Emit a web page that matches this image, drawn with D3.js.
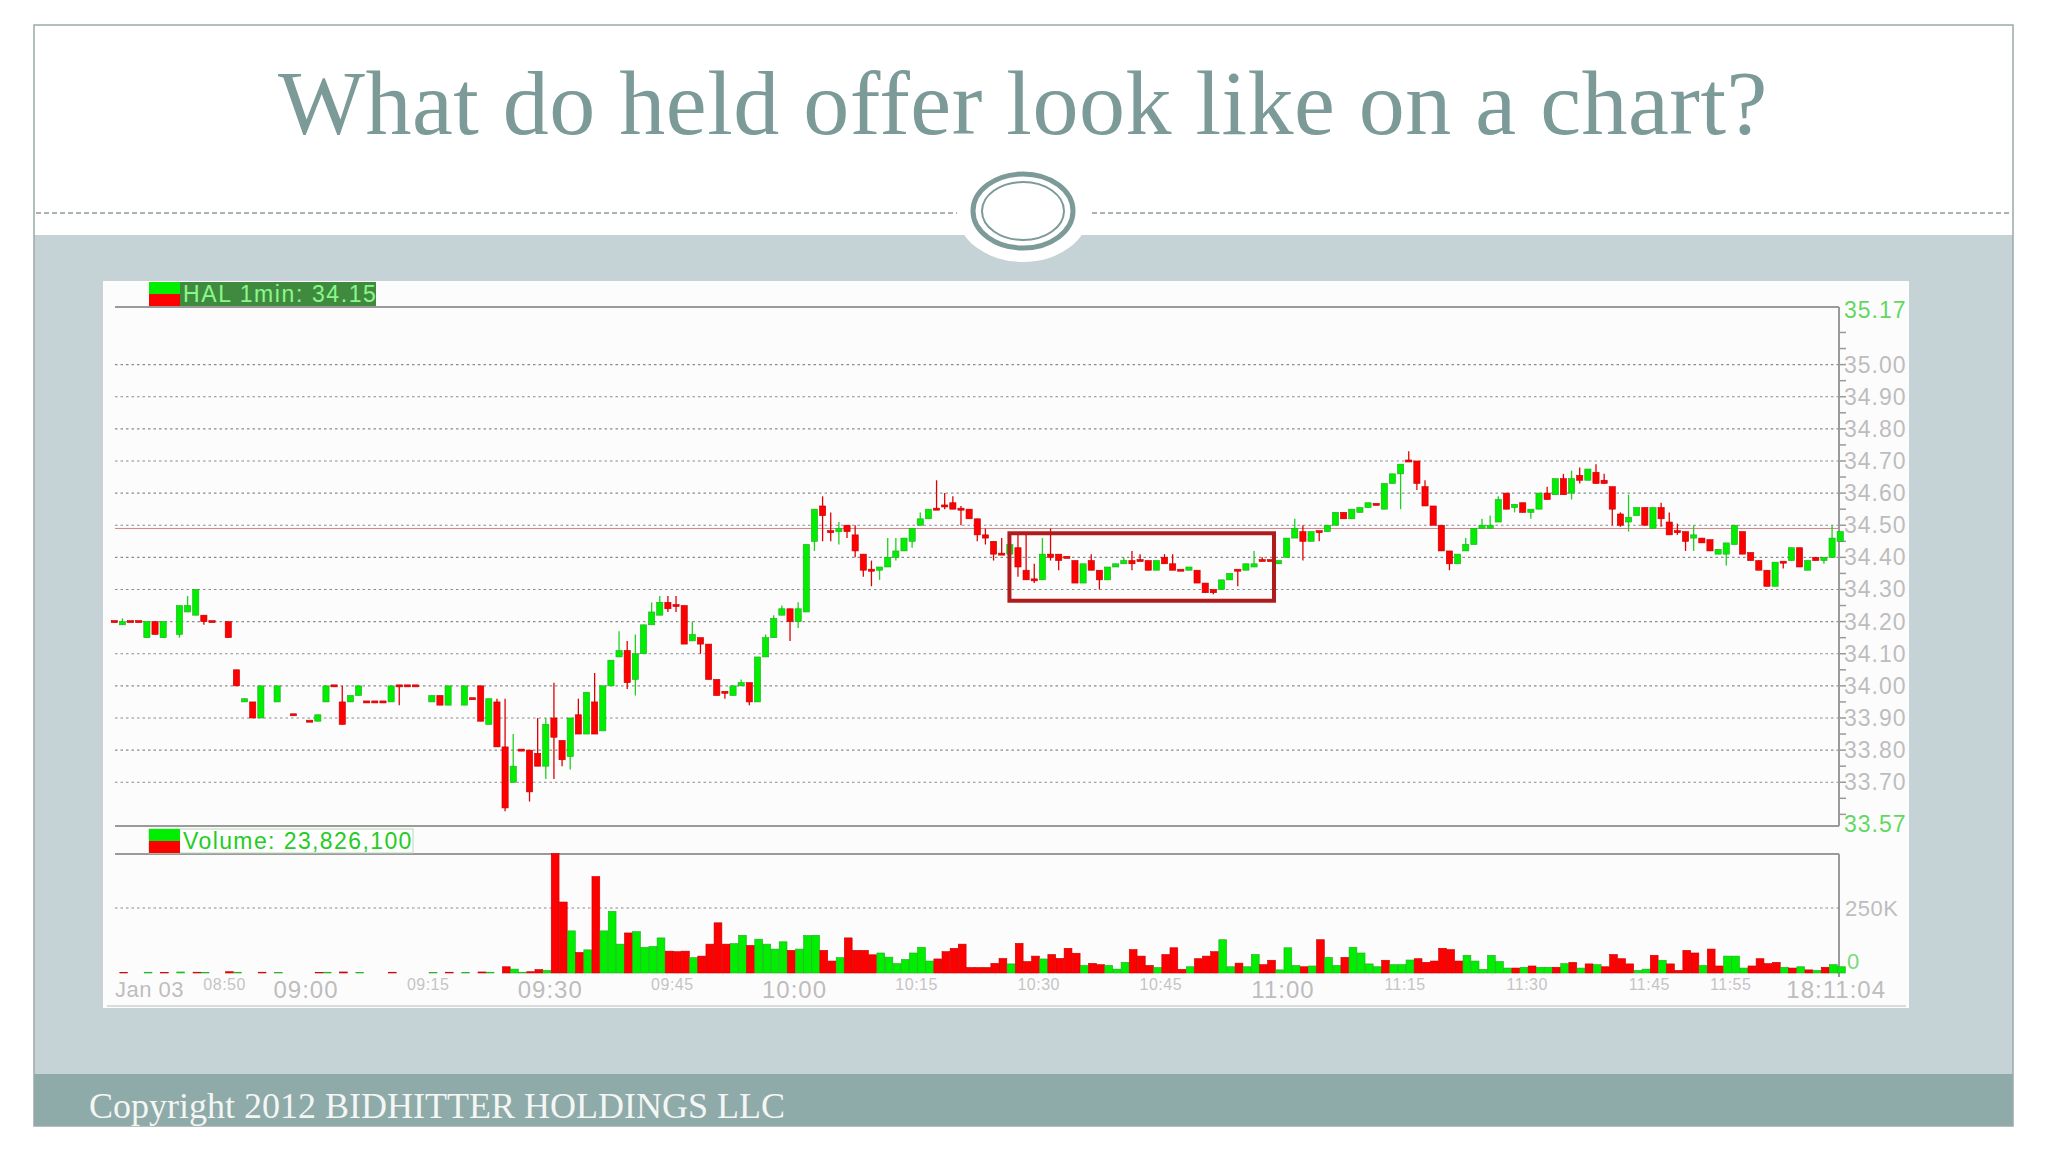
<!DOCTYPE html>
<html><head><meta charset="utf-8">
<script src="https://cdn.jsdelivr.net/npm/d3@7/dist/d3.min.js"></script>
<style>body{margin:0;background:#fff}svg{display:block}</style>
</head><body>
<script>
// ---- DATA ----
const title = "What do held offer look like on a chart?";
const footer = "Copyright 2012 BIDHITTER HOLDINGS LLC";
const priceLabel = "HAL 1min: 34.15";
const volumeLabel = "Volume: 23,826,100";
// candles: [minute from 09:00, open, high, low, close]
const candles = [
[-24,34.20,34.20,34.20,34.20],[-23,34.19,34.21,34.19,34.20],[-22,34.20,34.20,34.20,34.20],[-21,34.20,34.20,34.20,34.20],
[-20,34.15,34.20,34.15,34.20],[-19,34.20,34.20,34.16,34.16],[-18,34.15,34.20,34.15,34.20],[-16,34.16,34.25,34.15,34.25],
[-15,34.23,34.28,34.23,34.25],[-14,34.22,34.30,34.22,34.30],[-13,34.22,34.22,34.19,34.20],[-12,34.20,34.20,34.20,34.20],
[-10,34.20,34.20,34.15,34.15],[-9,34.05,34.05,34.00,34.00],[-8,33.95,33.96,33.95,33.96],[-7,33.95,33.95,33.90,33.90],
[-6,33.90,34.00,33.90,34.00],[-4,33.95,34.00,33.95,34.00],[-2,33.91,33.91,33.91,33.91],[0,33.89,33.89,33.89,33.89],
[1,33.89,33.91,33.89,33.91],[2,33.95,34.00,33.95,34.00],[3,34.00,34.00,34.00,34.00],[4,33.95,34.00,33.88,33.88],
[5,33.95,33.97,33.95,33.97],[6,33.97,34.00,33.97,34.00],[7,33.95,33.95,33.95,33.95],[8,33.95,33.95,33.95,33.95],
[9,33.95,33.95,33.95,33.95],[10,33.95,34.00,33.95,34.00],[11,34.00,34.00,33.94,34.00],[12,34.00,34.00,34.00,34.00],
[13,34.00,34.00,34.00,34.00],[15,33.95,33.97,33.95,33.97],[16,33.97,33.97,33.94,33.94],[17,33.94,34.00,33.94,34.00],
[19,33.94,34.00,33.94,34.00],[20,33.96,33.96,33.96,33.96],[21,34.00,34.00,33.89,33.89],[22,33.88,33.96,33.88,33.96],
[23,33.95,33.96,33.81,33.81],[24,33.81,33.96,33.61,33.62],[25,33.70,33.85,33.70,33.75],[26,33.80,33.80,33.80,33.80],
[27,33.80,33.80,33.64,33.67],[28,33.79,33.90,33.75,33.75],[29,33.75,33.90,33.71,33.88],[30,33.90,34.01,33.71,33.84],
[31,33.83,33.83,33.75,33.77],[32,33.78,33.90,33.74,33.90],[33,33.91,33.96,33.85,33.85],[34,33.85,33.98,33.85,33.98],
[35,33.95,34.04,33.85,33.85],[36,33.86,34.00,33.86,34.00],[37,34.00,34.08,34.00,34.08],[38,34.09,34.17,34.09,34.11],
[39,34.11,34.14,33.99,34.01],[40,34.02,34.16,33.97,34.10],[41,34.10,34.19,34.10,34.19],[42,34.19,34.26,34.19,34.23],
[43,34.22,34.28,34.22,34.26],[44,34.26,34.28,34.23,34.24],[45,34.25,34.28,34.23,34.25],[46,34.25,34.25,34.13,34.13],
[47,34.14,34.20,34.14,34.16],[48,34.15,34.15,34.10,34.13],[49,34.13,34.13,34.02,34.02],[50,34.02,34.02,33.97,33.97],
[51,33.98,33.98,33.96,33.98],[52,33.97,34.00,33.97,34.00],[53,34.00,34.02,34.00,34.01],[54,34.01,34.01,33.94,33.95],
[55,33.95,34.09,33.95,34.09],[56,34.09,34.16,34.09,34.15],[57,34.15,34.22,34.15,34.21],[58,34.22,34.25,34.22,34.24],
[59,34.24,34.24,34.14,34.20],[60,34.20,34.26,34.18,34.24],[61,34.23,34.44,34.23,34.44],[62,34.45,34.55,34.42,34.55],
[63,34.56,34.59,34.45,34.53],[64,34.48,34.54,34.45,34.48],[65,34.48,34.51,34.44,34.49],[66,34.50,34.50,34.46,34.48],
[67,34.47,34.50,34.40,34.42],[68,34.41,34.41,34.34,34.36],[69,34.36,34.39,34.31,34.36],[70,34.36,34.37,34.33,34.37],
[71,34.37,34.46,34.37,34.40],[72,34.40,34.46,34.39,34.42],[73,34.42,34.46,34.42,34.46],[74,34.45,34.49,34.43,34.49],
[75,34.50,34.54,34.50,34.52],[76,34.52,34.55,34.52,34.55],[77,34.55,34.64,34.55,34.55],[78,34.56,34.60,34.55,34.56],
[79,34.57,34.59,34.55,34.55],[80,34.55,34.56,34.50,34.55],[81,34.55,34.55,34.52,34.52],[82,34.52,34.52,34.45,34.47],
[83,34.47,34.49,34.44,34.46],[84,34.45,34.45,34.39,34.41],[85,34.41,34.46,34.41,34.41],[86,34.41,34.44,34.41,34.44],
[87,34.43,34.47,34.34,34.37],[88,34.36,34.47,34.33,34.33],[89,34.33,34.38,34.32,34.33],[90,34.33,34.46,34.33,34.41],
[91,34.41,34.49,34.39,34.40],[92,34.41,34.41,34.36,34.39],[93,34.40,34.40,34.40,34.40],[94,34.39,34.39,34.32,34.32],
[95,34.32,34.38,34.32,34.38],[96,34.39,34.41,34.36,34.36],[97,34.36,34.36,34.30,34.33],[98,34.33,34.37,34.33,34.37],
[99,34.37,34.38,34.37,34.38],[100,34.38,34.40,34.38,34.39],[101,34.39,34.42,34.36,34.38],[102,34.39,34.41,34.39,34.39],
[103,34.39,34.39,34.36,34.36],[104,34.36,34.39,34.36,34.39],[105,34.40,34.41,34.38,34.38],[106,34.38,34.41,34.36,34.36],
[107,34.36,34.36,34.36,34.36],[108,34.36,34.37,34.36,34.37],[109,34.36,34.36,34.32,34.32],[110,34.32,34.32,34.29,34.29],
[111,34.30,34.30,34.285,34.29],[112,34.30,34.33,34.30,34.33],[113,34.33,34.35,34.33,34.35],[114,34.36,34.36,34.31,34.36],
[115,34.36,34.38,34.36,34.38],[116,34.37,34.42,34.37,34.38],[117,34.39,34.40,34.39,34.39],[118,34.39,34.39,34.39,34.39],
[119,34.38,34.39,34.38,34.39],[120,34.40,34.46,34.40,34.46],[121,34.46,34.52,34.46,34.49],[122,34.48,34.50,34.39,34.45],
[123,34.45,34.48,34.45,34.48],[124,34.48,34.48,34.45,34.48],[125,34.48,34.50,34.48,34.50],[126,34.50,34.54,34.50,34.54],
[127,34.54,34.54,34.52,34.52],[128,34.52,34.55,34.52,34.55],[129,34.54,34.555,34.54,34.555],[130,34.555,34.57,34.555,34.57],
[131,34.565,34.565,34.565,34.565],[132,34.55,34.63,34.55,34.63],[133,34.63,34.66,34.63,34.66],[134,34.66,34.69,34.55,34.69],
[135,34.70,34.73,34.70,34.70],[136,34.70,34.70,34.61,34.63],[137,34.62,34.64,34.56,34.56],[138,34.56,34.56,34.50,34.50],
[139,34.50,34.50,34.42,34.42],[140,34.42,34.42,34.36,34.38],[141,34.38,34.41,34.38,34.41],[142,34.42,34.46,34.42,34.44],
[143,34.44,34.49,34.44,34.49],[144,34.49,34.52,34.49,34.50],[145,34.49,34.53,34.49,34.50],[146,34.51,34.59,34.51,34.58],
[147,34.60,34.60,34.55,34.55],[148,34.555,34.565,34.54,34.565],[149,34.57,34.57,34.54,34.54],[150,34.54,34.55,34.52,34.55],
[151,34.55,34.60,34.55,34.60],[152,34.60,34.62,34.58,34.58],[153,34.595,34.645,34.595,34.645],[154,34.645,34.66,34.595,34.595],
[155,34.60,34.67,34.58,34.645],[156,34.655,34.68,34.63,34.64],[157,34.64,34.675,34.64,34.675],[158,34.665,34.69,34.63,34.63],
[159,34.64,34.66,34.63,34.63],[160,34.62,34.62,34.50,34.55],[161,34.535,34.54,34.495,34.50],[162,34.51,34.595,34.48,34.525],
[163,34.53,34.555,34.53,34.555],[164,34.555,34.555,34.50,34.50],[165,34.49,34.555,34.49,34.555],[166,34.555,34.57,34.495,34.52],
[167,34.51,34.54,34.47,34.47],[168,34.48,34.505,34.47,34.48],[169,34.48,34.48,34.42,34.45],[170,34.46,34.50,34.42,34.47],
[171,34.46,34.46,34.445,34.445],[172,34.455,34.455,34.42,34.42],[173,34.41,34.425,34.41,34.425],[174,34.41,34.445,34.375,34.445],
[175,34.44,34.50,34.44,34.50],[176,34.48,34.48,34.41,34.41],[177,34.415,34.415,34.39,34.39],[178,34.39,34.39,34.36,34.36],
[179,34.36,34.36,34.31,34.31],[180,34.31,34.385,34.31,34.385],[181,34.385,34.385,34.365,34.385],[182,34.39,34.43,34.39,34.43],
[183,34.43,34.43,34.37,34.37],[184,34.36,34.39,34.36,34.39],[185,34.40,34.40,34.39,34.39],[186,34.39,34.40,34.38,34.40],
[187,34.40,34.50,34.40,34.46],[188,34.45,34.48,34.45,34.48]
];
// volume (thousands) from minute 24 onward, one bar per minute
const volStart = 24;
const volumeK = [24,15,3,5,13,10,459,273,162,79,89,371,162,237,111,154,159,99,102,135,84,82,84,59,65,111,193,111,113,145,106,130,111,92,120,87,92,144,145,87,46,59,135,87,87,70,77,61,36,52,77,99,46,54,82,
95,111,21,21,21,37,56,35,114,44,65,54,71,56,95,76,29,37,32,29,15,41,90,65,29,21,71,97,14,24,55,65,82,128,24,38,24,71,32,49,12,97,29,24,27,128,60,29,60,99,77,35,24,49,
32,32,50,55,41,46,95,90,46,68,46,14,68,44,19,19,22,27,22,22,22,36,41,19,35,32,24,71,55,35,10,15,68,49,35,10,87,77,29,92,27,65,65,19,27,55,36,41,22,19,24,12,10,22,32,24];
const volumeDir = ("rggrrgrrgrgrgggrggggrrrgrrrrggrggggrgggrrgrrrrgggggggrr"+
 "rrrrrrrgrrrgrrrrgrrgggrrrgrrrgrrrggrggrrgggrgrggrggggrg"+
 "ggrrrrrrggggggrgrggrgrgrgrrrrggrgrrrrgrrgggrrrrgrgrgrggg").split("");
const preVolMin = [-23,-20,-18,-16,-14,-13,-10,-9,-6,-4,1,2,4,6,10,15,17,19,21,22];
const preVolK =   [2,3,2,4,3,2,5,3,3,2,2,3,4,2,3,2,3,2,4,3];
const priceTicks = [33.7,33.8,33.9,34.0,34.1,34.2,34.3,34.4,34.5,34.6,34.7,34.8,34.9,35.0];
const priceMin = 33.57, priceMax = 35.17;
const bigTimeTicks = [[0,"09:00"],[30,"09:30"],[60,"10:00"],[120,"11:00"]];
const smallTimeTicks = [[-10,"08:50"],[15,"09:15"],[45,"09:45"],[75,"10:15"],[90,"10:30"],[105,"10:45"],[135,"11:15"],[150,"11:30"],[165,"11:45"],[175,"11:55"]];
const boxRange = {m0:86.4, m1:118.9, p0:34.265, p1:34.475};

// ---- DRAW ----
const W=2048,H=1152;
const svg=d3.select("body").append("svg").attr("width",W).attr("height",H);
const serif="'Liberation Serif','DejaVu Serif',serif", sans="'Liberation Sans',Arial,sans-serif";
// slide
svg.append("rect").attr("x",0).attr("y",0).attr("width",W).attr("height",H).attr("fill","#fff");
svg.append("rect").attr("x",34).attr("y",235).attr("width",1979).attr("height",839).attr("fill","#c5d2d6");
svg.append("rect").attr("x",34).attr("y",1074).attr("width",1979).attr("height",52).attr("fill","#8eaaa9");
svg.append("rect").attr("x",34).attr("y",25).attr("width",1979).attr("height",1101).attr("fill","none").attr("stroke","#9aa9aa").attr("stroke-width",1.5);
svg.append("text").attr("x",1023).attr("y",134).attr("text-anchor","middle").attr("font-family",serif).attr("font-size",92).attr("fill","#7b9a98").attr("letter-spacing",0.5).text(title);
svg.append("line").attr("x1",36).attr("x2",2011).attr("y1",213).attr("y2",213).attr("stroke","#8a9a9a").attr("stroke-width",1.5).attr("stroke-dasharray","5,3");
svg.append("ellipse").attr("cx",1023).attr("cy",212).attr("rx",66).attr("ry",50).attr("fill","#fff");
svg.append("ellipse").attr("cx",1023).attr("cy",211).attr("rx",50).attr("ry",37).attr("fill","none").attr("stroke","#7b9a98").attr("stroke-width",5);
svg.append("ellipse").attr("cx",1023).attr("cy",211).attr("rx",41).attr("ry",29).attr("fill","none").attr("stroke","#7b9a98").attr("stroke-width",2);
svg.append("text").attr("x",89).attr("y",1118).attr("font-family",serif).attr("font-size",36).attr("fill","#f4f6f4").text(footer);

// chart panel
svg.append("rect").attr("x",103).attr("y",281).attr("width",1806).attr("height",727).attr("fill","#fdfcfd");
const x=d3.scaleLinear().domain([-24.08,188.3]).range([110,1839]);
const y=d3.scaleLinear().domain([priceMin,priceMax]).range([824,310]);
const yv=d3.scaleLinear().domain([0,250]).range([973,908]);
const g=svg.append("g");
// grid
g.selectAll(".grid").data(priceTicks).join("line").attr("x1",115).attr("x2",1839)
 .attr("y1",d=>y(d)).attr("y2",d=>y(d)).attr("stroke","#8a8a8a").attr("stroke-width",1.2).attr("stroke-dasharray","2.5,3");
g.append("line").attr("x1",115).attr("x2",1839).attr("y1",y(34.49)).attr("y2",y(34.49)).attr("stroke","#d98080").attr("stroke-width",1);
// frames
const fr="#9a9a9a";
g.append("line").attr("x1",115).attr("x2",1839).attr("y1",307).attr("y2",307).attr("stroke",fr).attr("stroke-width",2);
g.append("line").attr("x1",115).attr("x2",1839).attr("y1",826).attr("y2",826).attr("stroke",fr).attr("stroke-width",2);
g.append("line").attr("x1",115).attr("x2",1839).attr("y1",854).attr("y2",854).attr("stroke",fr).attr("stroke-width",2);
g.append("line").attr("x1",1839).attr("x2",1839).attr("y1",307).attr("y2",826).attr("stroke",fr).attr("stroke-width",2);
g.append("line").attr("x1",1839).attr("x2",1839).attr("y1",854).attr("y2",977).attr("stroke",fr).attr("stroke-width",2);
g.append("line").attr("x1",115).attr("x2",1839).attr("y1",908).attr("y2",908).attr("stroke","#8a8a8a").attr("stroke-width",1.2).attr("stroke-dasharray","2.5,3");
// price axis
const minor=d3.range(33.6,35.15,0.05);
g.selectAll(".mt").data(minor).join("line").attr("x1",1839).attr("x2",1846).attr("y1",d=>y(d)).attr("y2",d=>y(d)).attr("stroke",fr).attr("stroke-width",1.5);
g.selectAll(".pl").data(priceTicks).join("text").attr("x",1844).attr("y",d=>y(d)+8).attr("font-family",sans).attr("font-size",23).attr("letter-spacing",1).attr("fill","#bdbdbd").text(d=>d.toFixed(2));
[priceMin,priceMax].forEach(v=>g.append("text").attr("x",1844).attr("y",y(v)+8).attr("font-family",sans).attr("font-size",23).attr("letter-spacing",1).attr("fill","#62d862").text(v.toFixed(2)));
g.append("text").attr("x",1845).attr("y",yv(250)+8).attr("font-family",sans).attr("font-size",22).attr("letter-spacing",0.5).attr("fill","#bdbdbd").text("250K");
g.append("text").attr("x",1847).attr("y",yv(0)-4).attr("font-family",sans).attr("font-size",22).attr("fill","#7ad87a").text("0");
// time axis
g.append("text").attr("x",115).attr("y",997).attr("font-family",sans).attr("font-size",22).attr("letter-spacing",0.5).attr("fill","#bdbdbd").text("Jan 03");
g.selectAll(".bt").data(bigTimeTicks).join("text").attr("x",d=>x(d[0])).attr("y",998).attr("text-anchor","middle").attr("font-family",sans).attr("font-size",24).attr("letter-spacing",1).attr("fill","#bdbdbd").text(d=>d[1]);
g.selectAll(".st").data(smallTimeTicks).join("text").attr("x",d=>x(d[0])).attr("y",990).attr("text-anchor","middle").attr("font-family",sans).attr("font-size",16).attr("letter-spacing",0.5).attr("fill","#c4c4c4").text(d=>d[1]);
g.append("text").attr("x",1886).attr("y",998).attr("text-anchor","end").attr("font-family",sans).attr("font-size",24).attr("letter-spacing",1).attr("fill","#bdbdbd").text("18:11:04");
g.append("line").attr("x1",107).attr("x2",1906).attr("y1",1006).attr("y2",1006).attr("stroke","#d8dcdc").attr("stroke-width",2);

// candles
const cw=6.2, GREEN="#00ee00", GEDGE="#22aa22", RED="#ff0000", REDGE="#c00000";
const cg=g.append("g");
candles.forEach(([m,o,h,l,c])=>{
  const up=c>o, cx=x(m+0.45);
  const col=up?GREEN:RED, edge=up?GEDGE:REDGE;
  cg.append("line").attr("x1",cx).attr("x2",cx).attr("y1",y(h)).attr("y2",y(l)).attr("stroke",up?"#1fd01f":"#e00000").attr("stroke-width",1.3);
  const top=y(Math.max(o,c)), bh=Math.max(2,Math.abs(y(o)-y(c)));
  cg.append("rect").attr("x",cx-cw/2).attr("y",top-(bh===2?1:0)).attr("width",cw).attr("height",bh).attr("fill",col).attr("stroke",edge).attr("stroke-width",0.6);
});
// volume
const vg=g.append("g");
const vols=volumeK.map((v,i)=>({m:volStart+i,v,d:volumeDir[i]})).concat(preVolMin.map((m,i)=>({m,v:preVolK[i],d:i%2?"g":"r"})));
vg.selectAll("rect").data(vols).join("rect").attr("x",d=>x(d.m+0.6)-3.9).attr("width",7.8)
 .attr("y",d=>yv(d.v)).attr("height",d=>yv(0)-yv(d.v))
 .attr("fill",d=>d.d==="g"?GREEN:RED).attr("stroke",d=>d.d==="g"?GEDGE:REDGE).attr("stroke-width",0.6);

// highlight box
g.append("rect").attr("x",x(boxRange.m0)).attr("y",y(boxRange.p1)).attr("width",x(boxRange.m1)-x(boxRange.m0)).attr("height",y(boxRange.p0)-y(boxRange.p1))
 .attr("fill","none").attr("stroke","#b01c1c").attr("stroke-width",4);

// legends
function legendIcon(x0,y0){g.append("rect").attr("x",x0).attr("y",y0).attr("width",31).attr("height",12).attr("fill","#00ee00");
 g.append("rect").attr("x",x0).attr("y",y0+12).attr("width",31).attr("height",12).attr("fill","#ff0000");}
g.append("rect").attr("x",149).attr("y",282).attr("width",227).attr("height",24).attr("fill","#3f8a3f");
legendIcon(149,282);
g.append("text").attr("x",183).attr("y",302).attr("font-family",sans).attr("font-size",23).attr("letter-spacing",1.6).attr("fill","#8cf78c").text(priceLabel);
g.append("rect").attr("x",149).attr("y",829).attr("width",264).attr("height",24).attr("fill","#fff").attr("stroke","#b8d8b8");
legendIcon(149,829);
g.append("text").attr("x",183).attr("y",849).attr("font-family",sans).attr("font-size",23).attr("letter-spacing",1.4).attr("fill","#22cc22").text(volumeLabel);
</script>
</body></html>
